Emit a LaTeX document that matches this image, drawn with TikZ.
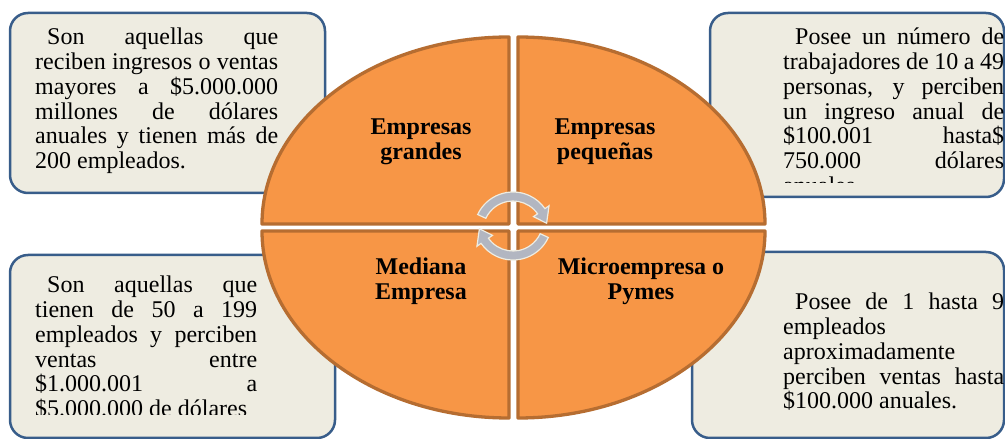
\documentclass[tikz,border=0pt]{standalone}
\usepackage{fontspec}
\setmainfont{Liberation Serif}

\definecolor{cardfill}{HTML}{EEECE1}
\definecolor{cardline}{HTML}{385D8A}
\definecolor{pieorange}{HTML}{F79646}
\definecolor{pieline}{HTML}{B66D31}
\definecolor{cyclegray}{HTML}{B2B6C1}
\definecolor{cycleedge}{HTML}{EEECE1}

\tikzset{
    card/.style={draw=cardline, fill=cardfill, line width=2.5, rounded corners=18,
        outer sep=0, anchor=south west},
    cardtext/.style={anchor=base west, inner sep=0, text width=#1, align=justify,
        font=\fontsize{24}{24.7}\selectfont},
    pielabel/.style={inner sep=0, align=center, font=\bfseries\fontsize{24}{25}\selectfont},
    slice/.style={draw=pieline, fill=pieorange, line width=3.3, line join=round},
    cyclearrow/.style={fill=cyclegray, draw=cycleedge, line width=1.2},
}

\begin{document}
\begin{tikzpicture}[x=1pt, y=1pt]
    \useasboundingbox (0,0) rectangle (1005,439);

    % cards
    \node[card, minimum width=315, minimum height=180] (cardTL) at (10,246) {};
    \node[card, minimum width=294, minimum height=184] (cardTR) at (710,242) {};
    \node[card, minimum width=325, minimum height=183] (cardBL) at (10,1) {};
    \node[card, minimum width=312, minimum height=186] (cardBR) at (692,1) {};

    \node[cardtext=243] (txtTL) at (35,394) {\hspace*{12pt}Son aquellas que\linebreak
        reciben ingresos o ventas\linebreak mayores a \$5.000.000\linebreak
        millones de dólares\linebreak anuales y tienen más de\linebreak 200 empleados.};
    \begin{scope}
        \clip (712,256) rectangle (1004,424);
        \node[cardtext=221] (txtTR) at (783,394) {\hspace*{12pt}Posee un número de\linebreak
            trabajadores de 10 a 49\linebreak personas, y perciben\linebreak
            un ingreso anual de\linebreak \$100.001 hasta\$\linebreak
            750.000 dólares\linebreak anuales};
    \end{scope}
    \begin{scope}
        \clip (12,24) rectangle (333,183);
        \node[cardtext=222] (txtBL) at (35,146) {\parfillskip=0pt\hspace*{12pt}Son aquellas que\linebreak
            tienen de 50 a 199\linebreak empleados y perciben\linebreak
            ventas entre\linebreak \$1.000.001 a\linebreak \$5.000.000 de dólares};
    \end{scope}
    \node[cardtext=221] (txtBR) at (783,129) {\hspace*{12pt}Posee de 1 hasta 9\linebreak
        empleados\linebreak aproximadamente\linebreak perciben ventas hasta\linebreak
        \$100.000 anuales.};

    % the four slices
    \foreach \cx/\cy/\sa/\ea in {509/215/180/90, 518/215/90/0, 509/208/180/270, 518/208/270/360}
        \draw[slice] (\cx,\cy) -- ++(\sa:247 and 187)
            arc[start angle=\sa, end angle=\ea, x radius=247, y radius=187] -- cycle;

    \node[pielabel] (grandes) at (421,297) {Empresas\\grandes};
    \node[pielabel] (pequenas) at (605,297) {Empresas\\pequeñas};
    \node[pielabel] (mediana) at (421,158) {Mediana\\Empresa};
    \node[pielabel] (micro) at (641,158) {Microempresa o\\Pymes};

    % cycle arrows
    \foreach \cy/\rot in {208/0, 218/180}{
        \begin{scope}[shift={(513,\cy)}, rotate=\rot]
            \filldraw[cyclearrow] (155:39) arc[start angle=155, end angle=35, radius=39]
                -- (35:44) -- (13:34.5) -- (35:25) -- (35:30)
                arc[start angle=35, end angle=155, radius=30] -- cycle;
        \end{scope}
    }
\end{tikzpicture}
\end{document}
